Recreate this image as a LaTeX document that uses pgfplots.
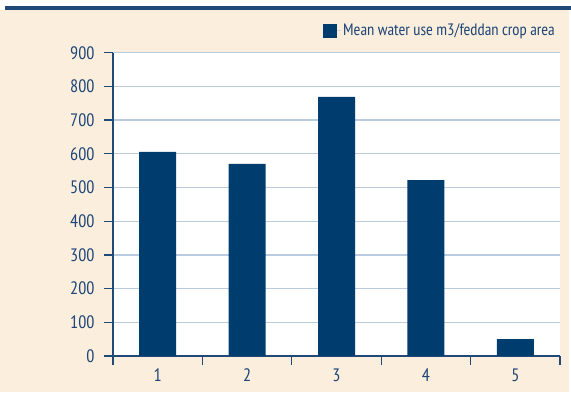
\documentclass[border=0pt]{standalone}
\usepackage{fontspec}
\setmainfont{PT Sans Narrow}
\usepackage{pgfplots}
\pgfplotsset{compat=1.18}
\definecolor{peach}{HTML}{FBEEDD}
\definecolor{barblue}{HTML}{003D6F}
\definecolor{axisblue}{HTML}{1F4A78}
\definecolor{gridblue}{HTML}{B9CCE0}
\definecolor{txtblue}{HTML}{1F4677}
\begin{document}
\begin{tikzpicture}[x=1bp,y=1bp]
\path[use as bounding box] (0,0) rectangle (571,392);
\fill[white] (0,0) rectangle (571,392);
\fill[peach] (0,0) rectangle (569,382);
\fill[axisblue] (5,382) rectangle (571,385.5);
\begin{axis}[
  at={(113bp,36bp)}, anchor=south west,
  scale only axis, width=447bp, height=303.3bp,
  xmin=0.5, xmax=5.5, ymin=0, ymax=900,
  axis background/.style={fill=white},
  axis x line*=bottom, axis y line*=left,
  axis line style={axisblue, line width=1.3bp, -},
  ybar, bar width=37bp,
  xtick={1,2,3,4,5},
  xticklabels={1,2,3,4,5},
  minor xtick={0.5,1.5,2.5,3.5,4.5,5.5},
  ytick={0,100,...,900},
  tick align=outside,
  major tick length=9bp, minor tick length=9bp,
  x tick style={draw=none},
  minor x tick style={draw=axisblue, line width=1.3bp},
  y tick style={axisblue, line width=1.3bp},
  ymajorgrids,
  major grid style={gridblue, line width=1.3bp},
  /pgf/number format/assume math mode=true,
  ticklabel style={font=\fontsize{18bp}{21bp}\selectfont, text=txtblue},
  yticklabel style={xshift=-6bp},
  legend style={draw=none, fill=none, at={(1.0,1.072)}, anchor=east,
    font=\fontsize{16.5bp}{20bp}\selectfont, text=txtblue},
]
\addplot[fill=barblue, draw=none,
  legend image code/.code={\fill[barblue] (-7bp,-7bp) rectangle (7bp,7bp);
    \path (7bp,0bp) -- (11bp,0bp);}]
  coordinates {(1,606) (2,570) (3,769) (4,522) (5,50)};
\addlegendentry{Mean water use m3/feddan crop area}
\end{axis}
\end{tikzpicture}
\end{document}
